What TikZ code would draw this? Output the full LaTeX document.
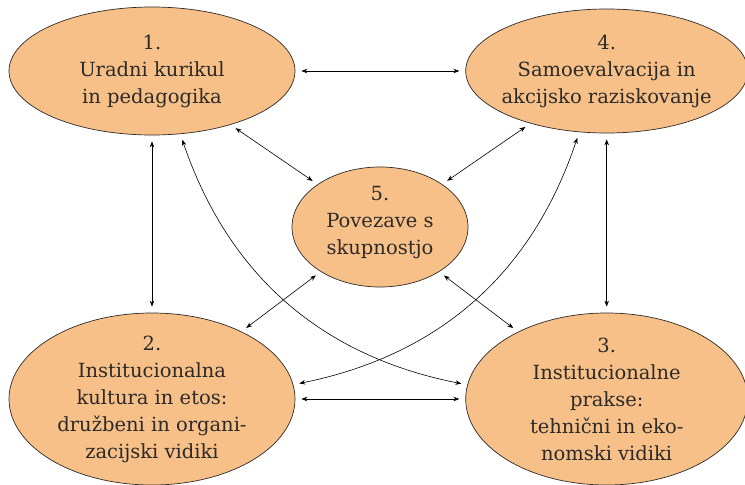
\documentclass[tikz,border=0pt]{standalone}
\usepackage{tikz}
\usepackage{fontspec}
\setmainfont{DejaVu Serif}
\usetikzlibrary{positioning, shapes.geometric, arrows.meta}
\definecolor{peach}{RGB}{246,192,136}
\definecolor{ink}{RGB}{45,42,40}

\begin{document}
\begin{tikzpicture}[x=1pt, y=-1pt, node distance=170pt,
		stage/.style={ellipse, draw=ink, fill=peach, line width=0.7pt, inner sep=0pt},
		stagetext/.style={align=center, text=ink, font=\fontsize{19.5}{27}\selectfont},
		link/.style={<->, >={Stealth[length=6pt, width=4.5pt]}, line width=0.6pt, shorten <=6pt, shorten >=6pt}]
		\useasboundingbox (0,0) rectangle (745,485);
		
		\node[stage, minimum width=286pt, minimum height=128pt] (s1) at (152,71) {};
		\node[stage, minimum width=282pt, minimum height=124pt] (s4) [right = of s1] {};
		\node[stage, minimum width=286pt, minimum height=172pt] (s2) at (152,399) {};
		\node[stage, minimum width=282pt, minimum height=172pt] (s3) [right = of s2] {};
		\node[stage, minimum width=176pt, minimum height=120pt] (s5) at (380,227) {};
		
		\node[stagetext] (t1) at (s1) {1.\\ Uradni kurikul\\ in pedagogika};
		\node[stagetext] (t4) at (s4) {4.\\ Samoevalvacija in\\ akcijsko raziskovanje};
		\node[stagetext] (t2) at (s2) {2.\\ Institucionalna\\ kultura in etos:\\ družbeni in organi-\\ zacijski vidiki};
		\node[stagetext] (t3) at (s3) {3.\\ Institucionalne\\ prakse:\\ tehnični in eko-\\ nomski vidiki};
		\node[stagetext] (t5) [yshift=4pt] at (s5) {5.\\ Povezave s\\ skupnostjo};
		
		\draw[link] (s1) -- (s4);
		\draw[link] (s1) -- (s2);
		\draw[link] (s4) -- (s3);
		\draw[link] (s2) -- (s3);
		
		\draw[link] (s1) -- (s5);
		\draw[link] (s4) -- (s5);
		\draw[link] (s5) -- (s2);
		\draw[link] (s5) -- (s3);
		
		\draw[link] (s1) to[bend right=30] (s3);
		\draw[link] (s4) to[bend left=30] (s2);
	\end{tikzpicture}
\end{document}
